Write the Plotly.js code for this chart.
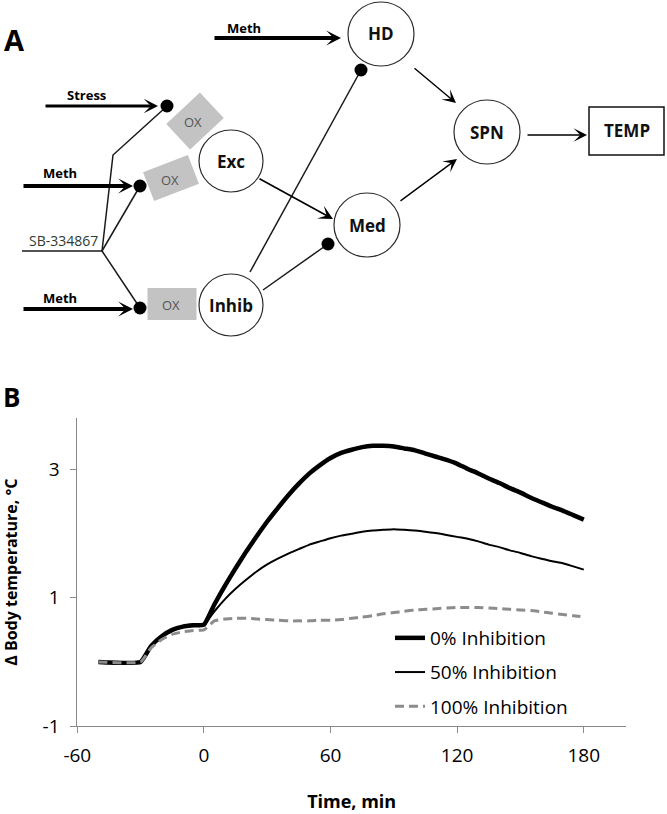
<!DOCTYPE html>
<html><head><meta charset="utf-8">
<script src="https://cdn.plot.ly/plotly-3.0.1.min.js"></script>
<style>html,body{margin:0;padding:0;background:#fff}#chart{width:667px;height:814px}</style>
</head><body><div id="chart"></div>
<script>
// ---------- DATA (panel B) ----------
const timeMin = [-50,-30,-25,-20,-15,-10,-5,0,5,10,15,20,25,30,35,40,45,50,55,60,65,70,75,80,85,90,95,100,105,110,115,120,125,130,135,140,145,150,155,160,165,170,175,180];
const inhib0   = [0,0,0.25,0.40,0.50,0.55,0.57,0.58,0.90,1.19,1.46,1.72,1.96,2.19,2.40,2.60,2.78,2.94,3.07,3.18,3.26,3.31,3.35,3.37,3.37,3.36,3.33,3.30,3.25,3.20,3.15,3.09,3.01,2.94,2.86,2.79,2.71,2.64,2.56,2.49,2.42,2.36,2.29,2.22];
const inhib50  = [0,0,0.24,0.39,0.49,0.54,0.56,0.575,0.79,0.98,1.14,1.28,1.41,1.52,1.61,1.69,1.76,1.83,1.88,1.93,1.97,2.00,2.03,2.05,2.06,2.07,2.06,2.05,2.03,2.01,1.98,1.95,1.92,1.88,1.83,1.79,1.74,1.70,1.65,1.61,1.57,1.54,1.49,1.44];
const inhib100 = [0,0,0.22,0.35,0.43,0.47,0.49,0.50,0.64,0.67,0.68,0.68,0.67,0.66,0.65,0.64,0.64,0.64,0.65,0.65,0.66,0.68,0.70,0.72,0.75,0.77,0.79,0.81,0.82,0.83,0.84,0.85,0.85,0.85,0.84,0.83,0.82,0.81,0.80,0.78,0.76,0.74,0.72,0.70];
const seriesNames = ['0% Inhibition','50% Inhibition','100% Inhibition'];
const xTickVals = [-60,0,60,120,180];
const xTickText = ['-60','0','60','120','180'];
const yTickVals = [-1,1,3];
const yTickText = ['-1','1','3'];

// ---------- DIAGRAM (panel A) labels ----------
const nodeLabels = ['HD','Exc','Med','Inhib','SPN'];
const inputLabels = ['Meth','Stress','Meth','Meth'];
const oxLabel = 'OX';
const drugLabel = 'SB-334867';
const outputLabel = 'TEMP';

const W = 667, H = 814;
const X = p => p / W;
const Y = p => 1 - p / H;

// diagram layout (pixel positions)
const nodePos = {HD:[381,34,33,32], Exc:[231,161,32,31], Med:[367,225,33,32], Inhib:[231,305,32,31], SPN:[487,132,33,32]};

const shapes = [];
const annotations = [];

// circles
nodeLabels.forEach(n => {
  const [cx,cy,rx,ry] = nodePos[n];
  shapes.push({type:'circle', xref:'paper', yref:'paper', x0:X(cx-rx), x1:X(cx+rx), y0:Y(cy+ry), y1:Y(cy-ry),
    line:{color:'#2a2a2a', width:1.2}, fillcolor:'rgba(0,0,0,0)'});
  annotations.push({xref:'paper', yref:'paper', x:X(cx), y:Y(cy), text:'<b>'+n+'</b>', showarrow:false,
    xanchor:'center', yanchor:'middle', font:{size:17, color:'#111'}});
});

// TEMP box
shapes.push({type:'rect', xref:'paper', yref:'paper', x0:X(589), x1:X(664), y0:Y(155), y1:Y(107),
  line:{color:'#111', width:1.5}, fillcolor:'rgba(0,0,0,0)'});
annotations.push({xref:'paper', yref:'paper', x:X(626.5), y:Y(131), text:'<b>'+outputLabel+'</b>', showarrow:false,
  xanchor:'center', yanchor:'middle', font:{size:17, color:'#111'}});

// OX rectangles (rotated)
function rotRect(cx, cy, w, h, deg) {
  const t = deg * Math.PI / 180;
  const u = [Math.cos(t), Math.sin(t)], v = [-Math.sin(t), Math.cos(t)];
  const pts = [[-1,-1],[1,-1],[1,1],[-1,1]].map(([a,b]) => [cx + a*u[0]*w/2 + b*v[0]*h/2, cy + a*u[1]*w/2 + b*v[1]*h/2]);
  return 'M' + pts.map(p => X(p[0]) + ',' + Y(p[1])).join('L') + 'Z';
}
const oxBoxes = [[195,121,46,35,-43,193,122],[171,178,48,31,-21,170,180],[172,304,49,32,0,171,305]];
oxBoxes.forEach(([cx,cy,w,h,d,tx,ty]) => {
  shapes.push({type:'path', xref:'paper', yref:'paper', path:rotRect(cx,cy,w,h,d), line:{width:0}, fillcolor:'#c3c3c3'});
  annotations.push({xref:'paper', yref:'paper', x:X(tx), y:Y(ty), text:oxLabel, showarrow:false,
    xanchor:'center', yanchor:'middle', font:{size:13, color:'#555'}});
});

// plain connector lines
function polyline(pts, width) {
  shapes.push({type:'path', xref:'paper', yref:'paper', path:'M' + pts.map(p => X(p[0]) + ',' + Y(p[1])).join('L'),
    line:{color:'#1a1a1a', width:width}});
}
polyline([[22,251],[102,251]], 1.3);
polyline([[102,251],[140,186]], 1.5);
polyline([[102,251],[140,308]], 1.5);
polyline([[102,251],[113,155],[166,107]], 1.5);
polyline([[250,272],[361,70]], 1.5);
polyline([[263,290],[328,244]], 1.5);

// dots (inhibitory endings)
[[167,106],[140,186],[140,308],[361,70],[328,244]].forEach(([cx,cy]) => {
  shapes.push({type:'circle', xref:'paper', yref:'paper', x0:X(cx-6.5), x1:X(cx+6.5), y0:Y(cy+6.5), y1:Y(cy-6.5),
    line:{width:0}, fillcolor:'#000'});
});

// arrows: [tailX, tailY, headX, headY, width, size]
const arrows = [
  [44,106,158,106,2.8,0.85],
  [22,186,133,186,3.8,0.65],
  [22,309,133,309,3.8,0.65],
  [213,38,341,38,3.8,0.65],
  [258,178,333,219,1.6,1.5],
  [413,67,456,103,1.4,1.6],
  [399,202,457,159,1.4,1.6],
  [526,135,587,135,1.4,1.6]
];
arrows.forEach(([tx,ty,hx,hy,w,s]) => {
  annotations.push({xref:'paper', yref:'paper', x:X(hx), y:Y(hy), ax:tx-hx, ay:ty-hy, text:'', showarrow:true,
    arrowhead:3, arrowwidth:w, arrowsize:s, arrowcolor:'#000', standoff:0, startstandoff:0});
});

// input labels
[[244,28],[86,95],[60,173],[60,298]].forEach(([x,y],i) => {
  annotations.push({xref:'paper', yref:'paper', x:X(x), y:Y(y), text:'<b>'+inputLabels[i]+'</b>', showarrow:false,
    xanchor:'center', yanchor:'middle', font:{size:13, color:'#000'}});
});
annotations.push({xref:'paper', yref:'paper', x:X(63), y:Y(240), text:drugLabel, showarrow:false,
  xanchor:'center', yanchor:'middle', font:{size:14, color:'#2e3b33'}});

// panel letters
annotations.push({xref:'paper', yref:'paper', x:X(14), y:Y(39), text:'<b>A</b>', showarrow:false,
  xanchor:'center', yanchor:'middle', font:{size:29, color:'#000'}});
annotations.push({xref:'paper', yref:'paper', x:X(12), y:Y(397), text:'<b>B</b>', showarrow:false,
  xanchor:'center', yanchor:'middle', font:{size:26, color:'#000'}});

// ---------- traces ----------
const traces = [
  {x:timeMin, y:inhib0, name:seriesNames[0], mode:'lines', legendgroup:'a', line:{color:'#000', width:4.5, shape:'spline', smoothing:0.4}},
  {x:timeMin, y:inhib50, name:seriesNames[1], mode:'lines', legendgroup:'b', line:{color:'#000', width:2, shape:'spline', smoothing:0.4}},
  {x:timeMin, y:inhib100, name:seriesNames[2], mode:'lines', legendgroup:'c', line:{color:'#8c8c8c', width:3, dash:'9px,5px', shape:'spline', smoothing:0.4}}
];

const axisGray = '#8a8a8a';
const layout = {
  width:W, height:H,
  margin:{l:0, r:0, t:0, b:0},
  paper_bgcolor:'#fff', plot_bgcolor:'rgba(0,0,0,0)',
  font:{family:'Open Sans, sans-serif', color:'#000'},
  showlegend:true,
  legend:{x:X(390), y:Y(619), xanchor:'left', yanchor:'top', bgcolor:'rgba(0,0,0,0)', borderwidth:0,
    font:{size:19, color:'#000'}, traceorder:'grouped', tracegroupgap:6.5, itemwidth:30},
  xaxis:{domain:[X(77.3), X(626)], range:[-60,200], tickvals:xTickVals, ticktext:xTickText, ticks:'outside', ticklen:6, tickcolor:axisGray,
    showline:true, linecolor:axisGray, linewidth:1, showgrid:false, zeroline:false,
    tickfont:{size:19}, ticklabelstandoff:6,
    title:{text:'<b>Time, min</b>', font:{size:18}, standoff:28}},
  yaxis:{domain:[Y(726), Y(418.3)], range:[-1,3.8], tickvals:yTickVals, ticktext:yTickText, ticks:'outside', ticklen:6, tickcolor:axisGray,
    showline:true, linecolor:axisGray, linewidth:1, showgrid:false, zeroline:false,
    tickfont:{size:19}, ticklabelstandoff:7,
    title:{text:'<b>Δ Body temperature, °C</b>', font:{size:16}, standoff:24}},
  shapes:shapes,
  annotations:annotations
};

Plotly.newPlot('chart', traces, layout, {displayModeBar:false, staticPlot:true});
</script>
</body></html>
